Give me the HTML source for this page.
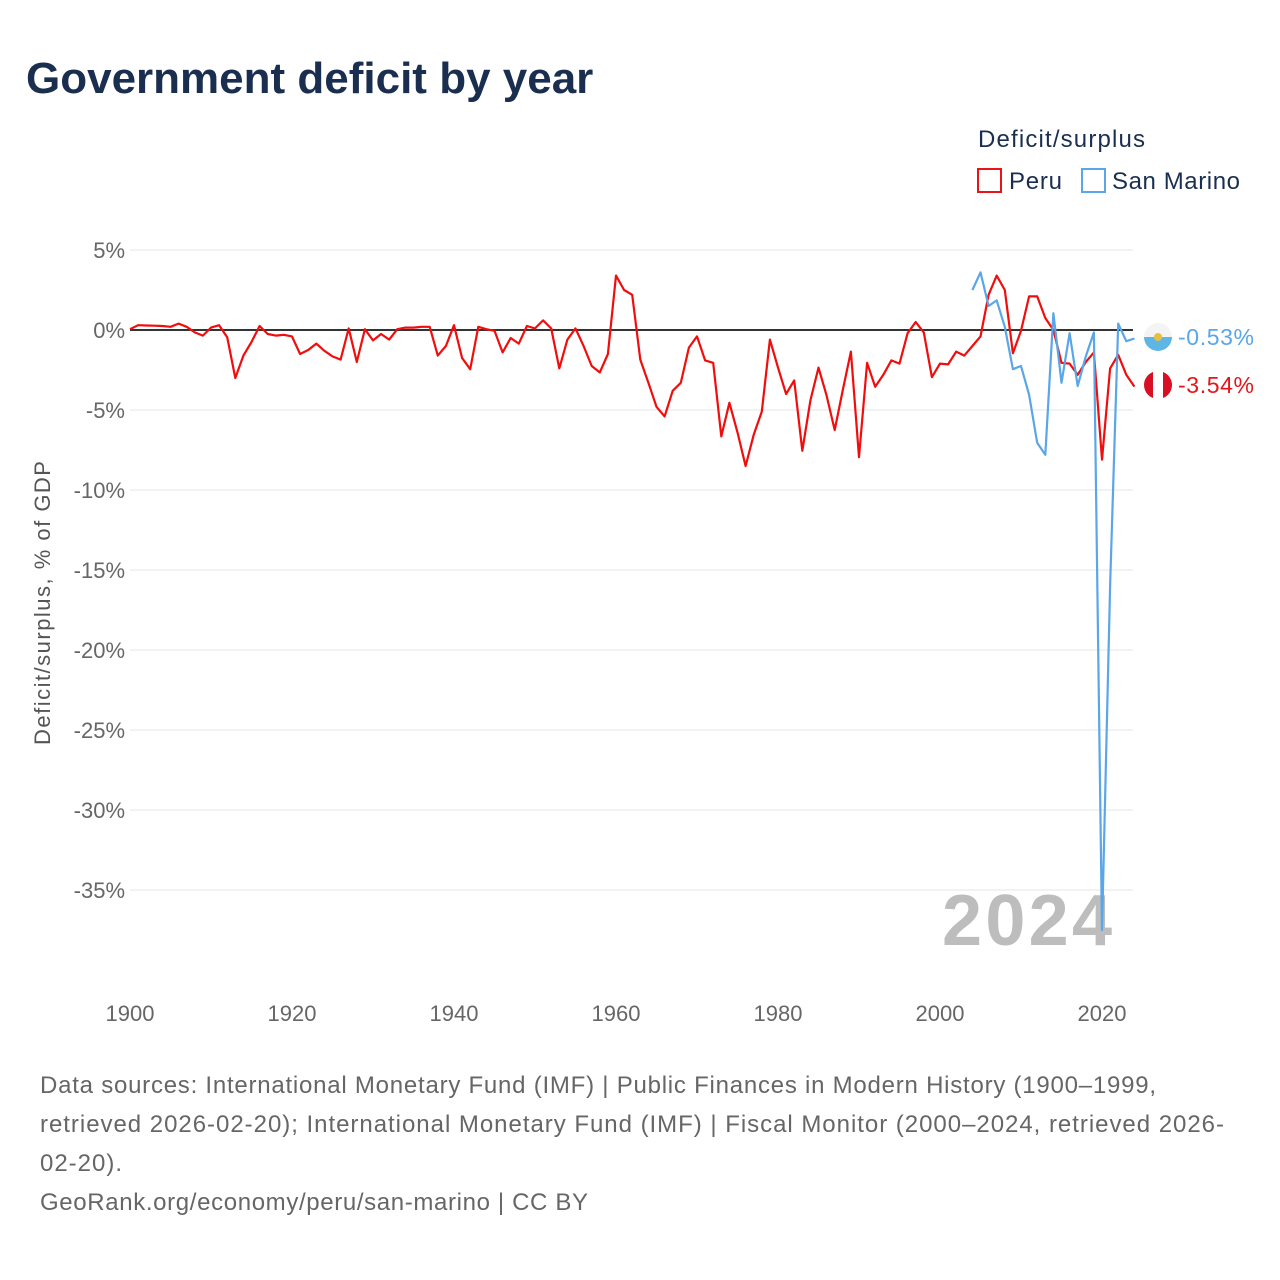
<!DOCTYPE html>
<html><head><meta charset="utf-8">
<style>
body{margin:0;background:#fff;font-family:"Liberation Sans",sans-serif;}
#wrap{position:relative;width:1280px;height:1280px;overflow:hidden;}
</style></head>
<body>
<div id="wrap">
<svg id="chart" width="1280" height="1280" xmlns="http://www.w3.org/2000/svg">
<text x="26" y="93" font-size="44" font-weight="bold" fill="#1a2f4f">Government deficit by year</text>
<text x="978" y="147" font-size="24" fill="#1a2f4f" textLength="167">Deficit/surplus</text>
<g><rect x="978" y="169" width="23" height="23" fill="none" stroke="#e8141a" stroke-width="2"/><text x="1009" y="189" font-size="24" fill="#1a2f4f" textLength="53">Peru</text></g>
<g><rect x="1082" y="169" width="23" height="23" fill="none" stroke="#5aa6e8" stroke-width="2"/><text x="1112" y="189" font-size="24" fill="#1a2f4f" textLength="128">San Marino</text></g>
<g id="grid"></g><g id="yticks"></g><g id="xticks"></g>
<text transform="translate(50,603) rotate(-90)" text-anchor="middle" font-size="22" fill="#555" textLength="284">Deficit/surplus, % of GDP</text>
<text x="942" y="945" font-size="72" font-weight="bold" fill="#bdbdbd" textLength="170">2024</text>
<g id="series"></g>
<g id="endlabels"></g>
<text x="40" y="1093" font-size="24" fill="#666" textLength="1116">Data sources: International Monetary Fund (IMF) | Public Finances in Modern History (1900–1999,</text>
<text x="40" y="1132" font-size="24" fill="#666" textLength="1184">retrieved 2026-02-20); International Monetary Fund (IMF) | Fiscal Monitor (2000–2024, retrieved 2026-</text>
<text x="40" y="1171" font-size="24" fill="#666" textLength="82">02-20).</text>
<text x="40" y="1210" font-size="24" fill="#666" textLength="548">GeoRank.org/economy/peru/san-marino | CC BY</text>
</svg>
</div>
<script>
const peruStart = 1900;
const peruValues = [0.05,0.3,0.28,0.27,0.25,0.2,0.4,0.2,-0.15,-0.35,0.15,0.3,-0.45,-3.0,-1.6,-0.75,0.25,-0.25,-0.35,-0.3,
-0.4,-1.5,-1.25,-0.85,-1.3,-1.65,-1.85,0.1,-2.0,0.05,-0.65,-0.25,-0.6,0.05,0.15,0.15,0.2,0.2,-1.6,-1.0,
0.3,-1.75,-2.45,0.2,0.05,-0.05,-1.4,-0.5,-0.85,0.25,0.1,0.6,0.1,-2.4,-0.6,0.1,-1.0,-2.25,-2.65,-1.5,
3.4,2.5,2.2,-1.85,-3.3,-4.8,-5.4,-3.8,-3.3,-1.1,-0.4,-1.9,-2.05,-6.65,-4.55,-6.4,-8.5,-6.55,-5.1,-0.6,
-2.35,-4.0,-3.15,-7.55,-4.4,-2.35,-4.1,-6.25,-3.75,-1.35,-7.95,-2.05,-3.55,-2.8,-1.9,-2.1,-0.2,0.5,-0.15,-2.95,
-2.1,-2.15,-1.35,-1.6,-1.0,-0.4,2.2,3.4,2.5,-1.45,-0.05,2.1,2.1,0.75,0,-2.05,-2.1,-2.8,-2.0,-1.4,
-8.1,-2.4,-1.55,-2.8,-3.54];
const smStart = 2004;
const smValues = [2.5,3.6,1.5,1.85,0.2,-2.45,-2.25,-4.05,-7.05,-7.8,1.05,-3.3,-0.2,-3.5,-1.65,-0.15,-37.5,-16,0.4,-0.7,-0.53];
const yTicks = [5,0,-5,-10,-15,-20,-25,-30,-35];
const xTicks = [1900,1920,1940,1960,1980,2000,2020];

const NS='http://www.w3.org/2000/svg';
const X = yr => 130 + (yr-1900)*8.1;
const Y = v => 330 - v*16;
function mk(tag, attrs, parent){const e=document.createElementNS(NS,tag);for(const k in attrs)e.setAttribute(k,attrs[k]);parent.appendChild(e);return e;}
const grid=document.getElementById('grid'), yt=document.getElementById('yticks'), xt=document.getElementById('xticks');
yTicks.forEach(v=>{
  const l=mk('line',{x1:130,x2:1133,y1:Y(v),y2:Y(v),stroke:'#e6e6e6','stroke-width':1},grid);
  
  
  const t=mk('text',{x:125,y:Y(v)+8,'text-anchor':'end','font-size':22,fill:'#666'},yt);
  t.textContent=v+'%';
  
  
});
xTicks.forEach(yr=>{
  const t=mk('text',{x:X(yr),y:1021,'text-anchor':'middle','font-size':22,fill:'#666'},xt);
  t.textContent=yr;
  
  
});
const zl=mk('line',{x1:130,x2:1133,y1:Y(0),y2:Y(0),stroke:'#333','stroke-width':2},grid);


const sg=document.getElementById('series');
function line(start, vals, color, name){
  const d=vals.map((v,i)=>(i?'L':'M')+X(start+i).toFixed(1)+','+Y(v).toFixed(1)).join('');
  const p=mk('path',{d:d,fill:'none',stroke:color,'stroke-width':2.2,'stroke-linejoin':'round'},sg);
  
  
}
line(peruStart,peruValues,'#f20d0d','peru-line');
line(smStart,smValues,'#5aa6e8','san-marino-line');
const el=document.getElementById('endlabels');
function endLabel(val,color,cy,name,flag){
  const g=mk('g',{},el);
  
  
  if(flag==='sm'){
    mk('path',{d:'M1144,'+cy+' a14,14 0 0 1 28,0 z',fill:'#f4f4f4'},g);
    mk('path',{d:'M1144,'+cy+' a14,14 0 0 0 28,0 z',fill:'#5eb6e4'},g);
    mk('circle',{cx:1158,cy:cy,r:4,fill:'#e8c040'},g);
  } else {
    mk('circle',{cx:1158,cy:cy,r:14,fill:'#d91023'},g);
    mk('rect',{x:1153,y:cy-14,width:10,height:28,fill:'#fff'},g);
  }
  const t=mk('text',{x:1178,y:cy+8,'font-size':23,fill:color,textLength:76},g);
  t.textContent=val.toFixed(2)+'%';
}
endLabel(smValues[smValues.length-1],'#5aa6e8',337,'san-marino-end-label','sm');
endLabel(peruValues[peruValues.length-1],'#e8141a',385,'peru-end-label','pe');
</script>
</body></html>
